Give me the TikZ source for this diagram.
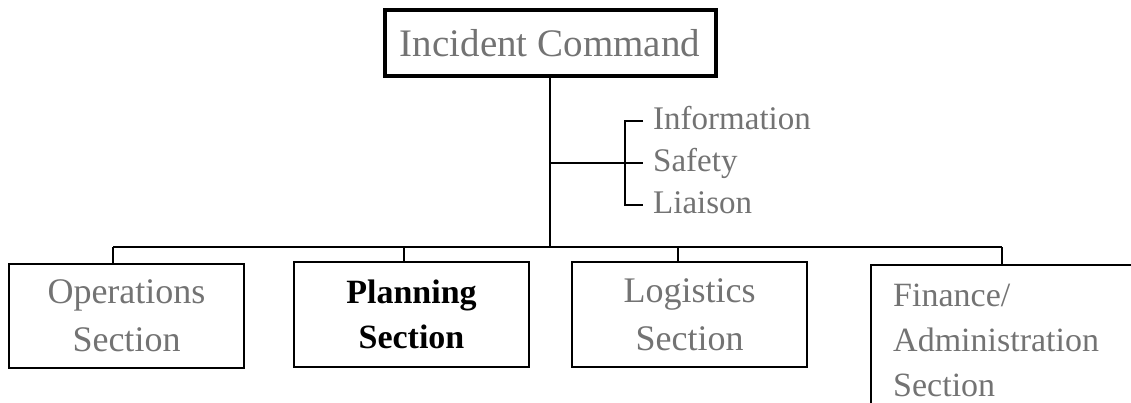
\documentclass[tikz,border=0pt]{standalone}
\usepackage{fontspec}
\setmainfont{Liberation Serif}
\begin{document}
\begin{tikzpicture}[x=1pt,y=-1pt,
  unit/.style={draw, line width=2pt, inner sep=0pt, align=center},
  dimtext/.style={text=black!55},
  link/.style={line width=1.8pt},
  staff/.style={dimtext, anchor=west, inner sep=0pt, text height=22pt, text depth=6pt,
                font=\fontsize{33}{36}\selectfont},
]
\useasboundingbox (0,0) rectangle (1131,402);

% command box
\node[unit, line width=4pt, minimum width=331pt, minimum height=66pt, dimtext,
      font=\fontsize{39}{44}\selectfont] (ic) at (550,43) {Incident Command};

% section boxes
\node[unit, minimum width=235pt, minimum height=104pt, dimtext,
      font=\fontsize{36}{48}\selectfont] (ops) at (126.5,316) {Operations\\Section};
\node[unit, minimum width=235pt, minimum height=105pt,
      font=\bfseries\fontsize{34}{45}\selectfont] (plan) at (411.5,314.5) {Planning\\Section};
\node[unit, minimum width=235pt, minimum height=105pt, dimtext,
      font=\fontsize{36}{48}\selectfont] (log) at (689.5,314.5) {Logistics\\Section};
\node[unit, anchor=north west, minimum width=300pt, minimum height=170pt] (fin) at (870,264) {};
\node[dimtext, anchor=north west, inner sep=0pt, align=left,
      font=\fontsize{34}{45}\selectfont] (fintext) at (893,284) {Finance/\\Administration\\Section};

% command staff
\node[staff] (info) at (653,121) {Information};
\node[staff] (safety) at (653,163) {Safety};
\node[staff] (liaison) at (653,205) {Liaison};

% connectors
\coordinate (side) at (625,163);
\coordinate (busL) at (113,247);
\coordinate (busR) at (1002,247);
\coordinate (dropP) at (404,247);
\coordinate (dropL) at (678,247);

\draw[link] (ic.south) -- (ic.south |- busL);
\draw[link] (ic.south |- side) -- (side);
\draw[link] ([xshift=-10pt]info.west) -| (side) |- ([xshift=-10pt]liaison.west);
\draw[link] (side) -- ([xshift=-10pt]safety.west);
\draw[link] (busL) -- (busR);
\draw[link] (busL) -- (busL |- ops.north);
\draw[link] (dropP) -- (dropP |- plan.north);
\draw[link] (dropL) -- (dropL |- log.north);
\draw[link] (busR) -- (busR |- fin.north);
\end{tikzpicture}
\end{document}
